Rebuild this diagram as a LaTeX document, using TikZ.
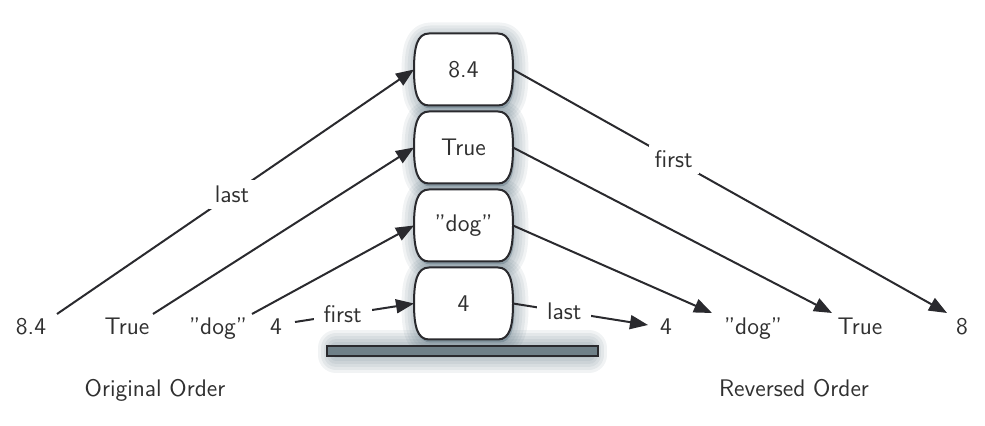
\documentclass[tikz,border=0pt]{standalone}
\usetikzlibrary{calc,arrows.meta}
\definecolor{ink}{HTML}{2A2A2E}
\definecolor{txt}{HTML}{303030}
\definecolor{barfill}{HTML}{6F8088}
\definecolor{shadowc}{HTML}{3F5A6A}
\begin{document}
\begin{tikzpicture}[x=0.5pt,y=0.5pt,
  every node/.style={font=\sffamily\fontsize{12}{14}\selectfont, text=txt},
  cellnode/.style={minimum width=49.5pt, minimum height=36pt, inner sep=0pt, outer sep=0pt},
  lbl/.style={anchor=base, inner sep=0pt},
  arr/.style={draw=ink, line width=1pt, -{Triangle[length=9pt,width=7pt]}},
  onlab/.style={fill=white, inner sep=3pt},
  onlabw/.style={fill=white, inner ysep=3pt, inner xsep=5pt},
  cellpath/.style={insert path={(-34.5,36) -- (34.5,36)
      .. controls (46.5,36) and (49.5,22) .. (49.5,0)
      .. controls (49.5,-22) and (46.5,-36) .. (34.5,-36)
      -- (-34.5,-36)
      .. controls (-46.5,-36) and (-49.5,-22) .. (-49.5,0)
      .. controls (-49.5,22) and (-46.5,36) .. cycle}},
  shadowlayer/.style={fill=shadowc, draw=shadowc, opacity=0.075, line join=round, line width=#1},
  cellbox/.style={draw=ink, line width=1pt, fill=white},
  barbox/.style={draw=ink, line width=1pt, fill=barfill}]
\useasboundingbox (0,0) rectangle (985,-426);

% stack cells (named nodes for the connectors)
\node[cellnode] (b1) at (463.5,-69.5) {};
\node[cellnode] (b2) at (463.5,-147.5) {};
\node[cellnode] (b3) at (463.5,-225.5) {};
\node[cellnode] (b4) at (463.5,-303.5) {};
\coordinate (barnw) at (327,-346);
\coordinate (barse) at (598,-356);

% soft shadows
\foreach \cy in {-69.5,-147.5,-225.5,-303.5} {
  \begin{scope}[shift={(465,\cy-3)}]
    \foreach \w in {14pt,11pt,8pt,5pt,2pt}
      \path[shadowlayer=\w, cellpath];
  \end{scope}
}
\foreach \w in {18pt,15pt,12pt,9pt,6pt,3pt}
  \path[shadowlayer=\w] (336,-348) rectangle (589,-355);

% outlines
\foreach \cy in {-69.5,-147.5,-225.5,-303.5} {
  \begin{scope}[shift={(463.5,\cy)}]
    \path[cellbox, cellpath];
  \end{scope}
}
\draw[barbox] (barnw) rectangle (barse);

% cell texts
\node at (b1) {8.4};
\node at (b2) {True};
\node at (b3) {"dog"};
\node at (b4) {4};

% original order labels
\node[lbl] (L84) at (31,-335) {8.4};
\node[lbl] (LTrue) at (127,-335) {True};
\node[lbl] (Ldog) at (218,-335) {"dog"};
\node[lbl] (L4) at (276,-335) {4};
\node[lbl] (orig) at (155,-397) {Original Order};

% reversed order labels
\node[lbl] (R4) at (666,-335) {4};
\node[lbl] (Rdog) at (753,-335) {"dog"};
\node[lbl] (RTrue) at (860,-335) {True};
\node[lbl] (R8) at (962,-335) {8};
\node[lbl] (rev) at (794,-397) {Reversed Order};

% pushes
\draw[arr] ($(L84.base)+(26,21)$) -- node[onlab, pos=0.49] {last} (b1.west);
\draw[arr] ($(LTrue.base)+(26,21)$) -- (b2.west);
\draw[arr] ($(Ldog.base)+(34,21)$) -- (b3.west);
\draw[arr] ($(L4.base)+(19,13)$) -- node[onlabw, pos=0.40] {first} (b4.west);

% pops
\draw[arr] (b1.east) -- node[onlab, pos=0.37] {first} ($(R8.base)+(-15,22)$);
\draw[arr] (b2.east) -- ($(RTrue.base)+(-28,22)$);
\draw[arr] (b3.east) -- ($(Rdog.base)+(-41,22)$);
\draw[arr] (b4.east) -- node[onlabw, pos=0.38] {last} ($(R4.base)+(-18,10)$);
\end{tikzpicture}
\end{document}
